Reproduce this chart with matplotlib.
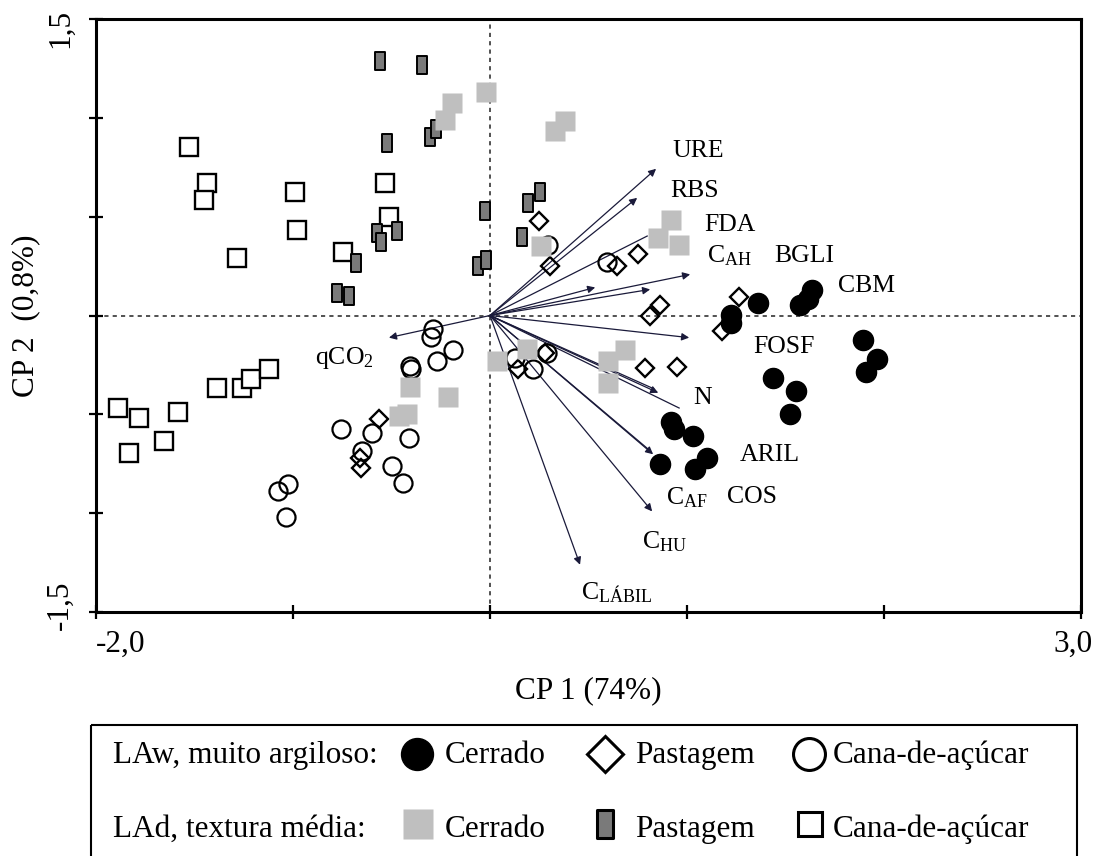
import numpy as np
import matplotlib
matplotlib.use("Agg")
import matplotlib.pyplot as plt
from matplotlib.path import Path
from matplotlib.transforms import ScaledTranslation

plt.rcParams['font.family'] = ['Liberation Serif', 'DejaVu Serif']
plt.rcParams['mathtext.fontset'] = 'custom'
plt.rcParams['mathtext.rm'] = 'Liberation Serif'
plt.rcParams['mathtext.it'] = 'Liberation Serif:italic'
plt.rcParams['mathtext.bf'] = 'Liberation Serif:bold'

# ---------------- data (CP1, CP2 scores) ----------------
law_cerrado_x = [1.362, 1.636, 1.616, 1.575, 1.225, 1.225, 1.895, 1.966, 1.911, 1.438, 1.555, 1.524,
                 0.920, 0.935, 1.031, 1.103, 0.864, 1.042]
law_cerrado_y = [0.061, 0.127, 0.086, 0.051, 0.005, -0.036, -0.122, -0.219, -0.285, -0.315, -0.381, -0.498,
                 -0.539, -0.574, -0.610, -0.722, -0.752, -0.778]

law_pastagem_x = [0.249, 0.305, 0.645, 0.752, 0.864, 0.813, 1.265, 1.179, 0.788, 0.950, -0.564, -0.661,
                  -0.655, 0.142, 0.279]
law_pastagem_y = [0.478, 0.249, 0.249, 0.310, 0.051, 0.000, 0.092, -0.076, -0.264, -0.259, -0.524, -0.722,
                  -0.773, -0.269, -0.188]

law_cana_x = [-0.290, -0.300, -0.188, -0.269, -0.407, -0.401, -0.757, -0.600, -0.412, -0.650, -0.498, -0.442,
              -1.026, -1.077, -1.037, 0.127, 0.218, 0.290, 0.595, 0.295]
law_cana_y = [-0.066, -0.107, -0.173, -0.229, -0.254, -0.269, -0.574, -0.595, -0.620, -0.686, -0.763, -0.849,
              -0.854, -0.890, -1.017, -0.214, -0.269, -0.188, 0.269, 0.356]

lad_cerrado_x = [-0.193, -0.229, -0.020, 0.381, 0.330, 0.920, 0.854, 0.960, 0.259, 0.036, 0.188, 0.686,
                 0.600, 0.600, -0.407, -0.213, -0.422, -0.462]
lad_cerrado_y = [1.073, 0.991, 1.129, 0.986, 0.935, 0.483, 0.391, 0.356, 0.351, -0.229, -0.168, -0.173,
                 -0.229, -0.341, -0.361, -0.412, -0.498, -0.508]

lad_pastagem_x = [-0.559, -0.346, -0.523, -0.305, -0.274, -0.025, -0.574, -0.554, -0.473, -0.681, -0.777,
                  -0.716, -0.061, -0.020, 0.254, 0.193, 0.163]
lad_pastagem_y = [1.286, 1.266, 0.874, 0.905, 0.946, 0.529, 0.417, 0.371, 0.427, 0.264, 0.112, 0.097,
                  0.249, 0.280, 0.625, 0.569, 0.397]

lad_cana_x = [-1.529, -1.438, -1.453, -0.991, -0.981, -1.286, -0.534, -0.513, -0.747, -1.890, -1.784, -1.585,
              -1.834, -1.657, -1.387, -1.260, -1.214, -1.123]
lad_cana_y = [0.854, 0.671, 0.585, 0.625, 0.432, 0.290, 0.671, 0.498, 0.320, -0.468, -0.519, -0.488,
              -0.696, -0.635, -0.366, -0.366, -0.320, -0.269]

# variable vectors (tips) ; has_head flag
vec_x = [0.843, 0.747, 0.798, 0.534, 1.016, 0.813, 1.011, 0.854, 0.830, 0.960, 0.828, 0.803, 0.823, 0.457, -0.513]
vec_y = [0.742, 0.595, 0.402, 0.142, 0.208, 0.132, -0.112, -0.391, -0.370, -0.468, -0.702, -0.676, -0.991, -1.261, -0.112]
vec_head = [True, True, False, True, True, True, True, True, False, False, True, False, True, True, True]

# variable labels and positions (left, baseline)
var_labels = ['URE', 'RBS', 'FDA', r'C$_{\mathrm{AH}}$', 'BGLI', 'CBM', 'FOSF', 'N', 'ARIL',
              r'C$_{\mathrm{AF}}$', 'COS', r'C$_{\mathrm{HU}}$', r'C$_{\mathrm{LÁBIL}}$', r'qCO$_{\mathrm{2}}$']
var_lx = [0.925, 0.915, 1.087, 1.103, 1.443, 1.768, 1.336, 1.031, 1.270, 0.894, 1.204, 0.772, 0.462, -0.889]
var_ly = [0.803, 0.600, 0.427, 0.269, 0.269, 0.117, -0.188, -0.447, -0.737, -0.956, -0.951, -1.179, -1.434, -0.244]

x_ticks = [-2, -1, 0, 1, 2, 3]
x_ticklabels = ['-2,0', '', '', '', '', '3,0']
y_ticks = [-1.5, -1.0, -0.5, 0.0, 0.5, 1.0, 1.5]
y_ticklabels = ['-1,5', '', '', '', '', '', '1,5']

legend_groups = ['LAw, muito argiloso:', 'LAd, textura média:']
legend_categories = ['Cerrado', 'Pastagem', 'Cana-de-açúcar']

# ---------------- figure ----------------
W, H = 1100, 856
fig = plt.figure(figsize=(W / 100, H / 100), dpi=100)
ax = fig.add_axes([96 / W, 1 - 612 / H, (1081 - 96) / W, (612 - 19) / H])
ax.set_xlim(-2, 3)
ax.set_ylim(-1.5, 1.5)

ax.axhline(0, color='#333333', lw=1.2, ls=(0, (2.5, 2.5)), zorder=1)
ax.axvline(0, color='#333333', lw=1.2, ls=(0, (2.5, 2.5)), zorder=1)

for vx, vy, hd in zip(vec_x, vec_y, vec_head):
    if hd:
        ax.annotate('', xy=(vx, vy), xytext=(0, 0),
                    arrowprops=dict(arrowstyle='-|>', lw=0.9, color='#1a1a3a',
                                    mutation_scale=11, shrinkA=0, shrinkB=0), zorder=2)
    else:
        ax.plot([0, vx], [0, vy], color='#1a1a3a', lw=0.9, zorder=2)

rect_marker = Path([(-0.28, -0.5), (0.28, -0.5), (0.28, 0.5), (-0.28, 0.5), (-0.28, -0.5)],
                   [Path.MOVETO, Path.LINETO, Path.LINETO, Path.LINETO, Path.CLOSEPOLY])

gray = '#bfbfbf'
dgray = '#7a7a7a'

ax.plot(lad_cana_x, lad_cana_y, ls='none', marker='s', ms=13, mfc='white', mec='black', mew=1.7, zorder=3)
ax.plot(lad_pastagem_x, lad_pastagem_y, ls='none', marker=rect_marker, ms=13.5, mfc=dgray, mec='black',
        mew=1.4, zorder=3)
ax.plot(law_cana_x, law_cana_y, ls='none', marker='o', ms=13, mfc='none', mec='black', mew=1.6, zorder=3)
ax.plot(law_pastagem_x, law_pastagem_y, ls='none', marker='D', ms=9.5, mfc='none', mec='black', mew=1.7,
        zorder=3)
ax.plot(lad_cerrado_x, lad_cerrado_y, ls='none', marker='s', ms=15, mfc=gray, mec='none', zorder=3.5)
ax.plot(law_cerrado_x, law_cerrado_y, ls='none', marker='o', ms=14.5, mfc='black', mec='black', zorder=3.5)

for lab, lx, ly in zip(var_labels, var_lx, var_ly):
    ax.text(lx, ly, lab, fontsize=18.5, ha='left', va='baseline', zorder=5)

for s in ax.spines.values():
    s.set_linewidth(2.2)

ax.set_xticks(x_ticks)
ax.set_xticklabels(x_ticklabels, fontsize=22.5)
ax.set_yticks(y_ticks)
ax.set_yticklabels(y_ticklabels, fontsize=22.5, rotation=90, va='center')
ax.tick_params(direction='inout', length=10, width=1.6, pad=8)
ax.tick_params(axis='y', pad=10)

xl = ax.get_xticklabels()
xl[0].set_ha('left')
xl[-1].set_transform(xl[-1].get_transform() + ScaledTranslation(-8 / 100, 0, fig.dpi_scale_trans))
yl = ax.get_yticklabels()
yl[0].set_transform(yl[0].get_transform() + ScaledTranslation(0, 7 / 100, fig.dpi_scale_trans))
yl[-1].set_transform(yl[-1].get_transform() + ScaledTranslation(0, -9 / 100, fig.dpi_scale_trans))

ax.set_xlabel('CP 1 (74%)', fontsize=22.5, labelpad=12)
ax.set_ylabel('CP 2  (0,8%)', fontsize=22.5)
ax.yaxis.set_label_coords(-0.057, 0.5)

# ---------------- legend box ----------------
lax = fig.add_axes([0, 0, 1, 1])
lax.set_xlim(0, W)
lax.set_ylim(H, 0)
lax.axis('off')
lax.add_patch(plt.Rectangle((91, 725), 1077 - 91, 140, fill=False, ec='black', lw=1.5, clip_on=False))

row_base = [763, 837]
row_mark = [754, 824]
for g, yb in zip(legend_groups, row_base):
    lax.text(113, yb, g, fontsize=22.5, ha='left', va='baseline')
cat_x = [445, 635, 833]
for j, c in enumerate(legend_categories):
    for yb in row_base:
        lax.text(cat_x[j], yb, c, fontsize=22.5, ha='left', va='baseline')

lax.plot([417], [row_mark[0]], marker='o', ms=23, mfc='black', mec='black')
lax.plot([605], [row_mark[0]], marker='D', ms=18, mfc='white', mec='black', mew=2.2)
lax.plot([809], [row_mark[0]], marker='o', ms=23, mfc='white', mec='black', mew=2.2)
lax.plot([418], [row_mark[1]], marker='s', ms=21, mfc=gray, mec='none')
lax.plot([605], [row_mark[1]], marker=rect_marker, ms=19.5, mfc=dgray, mec='black', mew=2.2)
lax.plot([810], [row_mark[1]], marker='s', ms=17, mfc='white', mec='black', mew=2.2)

fig.savefig('out.png', dpi=100)
